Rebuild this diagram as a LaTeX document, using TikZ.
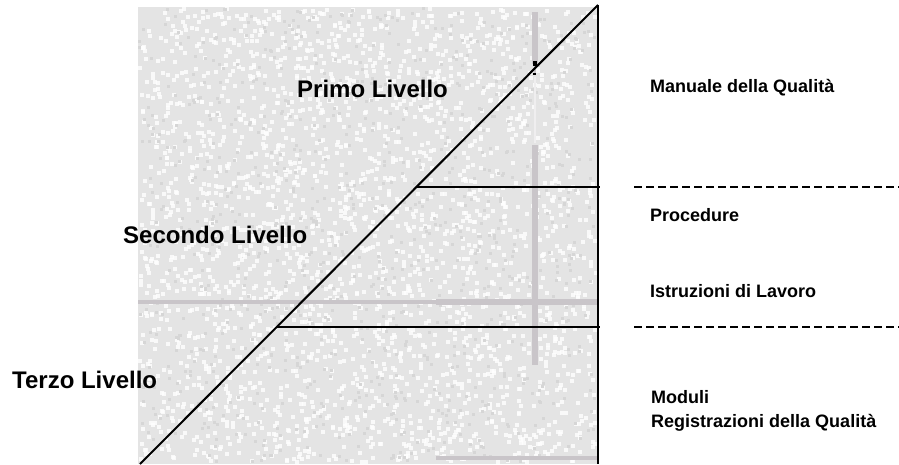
\documentclass[tikz,border=0pt]{standalone}
\usepackage{fontspec}
\setmainfont{Liberation Sans}
\definecolor{bgtex}{HTML}{E4E4E4}
\definecolor{speckd}{HTML}{D6D6D6}
\definecolor{stripe}{HTML}{C9C5C9}
\begin{document}
\begin{tikzpicture}[x=1pt,y=-1pt,
  big/.style={anchor=base west,inner sep=0pt,font=\fontsize{24}{28}\selectfont\bfseries},
  small/.style={anchor=base west,inner sep=0pt,font=\fontsize{18}{23}\selectfont\bfseries},
  blk/.style={line width=2pt,black},
  dsh/.style={line width=2pt,black,dash pattern=on 8pt off 4pt},
  grey/.style={stripe}]
\useasboundingbox (0,0) rectangle (899,464);
% textured background
\fill[bgtex] (138,7) rectangle (598,464);
\pgfmathsetseed{7}
\foreach \i in {1,...,2600}{%
  \pgfmathsetmacro\rx{138+rnd*456}%
  \pgfmathsetmacro\ry{7+rnd*453}%
  \fill[white,opacity=0.8] (\rx,\ry) rectangle ++(4,4);}
\foreach \i in {1,...,900}{%
  \pgfmathsetmacro\rx{138+rnd*456}%
  \pgfmathsetmacro\ry{7+rnd*453}%
  \fill[speckd] (\rx,\ry) rectangle ++(3,3);}
% faint grey stripes of the background
\fill[grey] (532,12) rectangle (538,64);
\fill[grey] (534,66) rectangle (536,73);
\fill[white!70!stripe] (534,77) rectangle (536,143);
\fill[grey] (532,145) rectangle (538,365);
\fill[black] (533,61) rectangle (537,66);
\fill[black] (533,73) rectangle (536,75);
\fill[grey] (138,300) rectangle (436,304);
\fill[grey] (436,299) rectangle (598,305);
\fill[grey] (436,456) rectangle (598,460);
% frame coordinates
\coordinate (bl) at (140,464);
\coordinate (tr) at (598,5);
\coordinate (br) at (598,464);
\coordinate (d1) at (417,187);
\coordinate (e1) at (600,187);
\coordinate (d2) at (277,327);
\coordinate (e2) at (600,327);
\coordinate (s1) at (634,187);
\coordinate (t1) at (899,187);
\coordinate (s2) at (634,327);
\coordinate (t2) at (899,327);
\draw[blk] (bl) -- (tr);
\draw[blk] (tr) -- (br);
\draw[blk] (d1) -- (e1);
\draw[blk] (d2) -- (e2);
\draw[dsh] (s1) -- (t1);
\draw[dsh] (s2) -- (t2);
% labels
\node[big] (primo) at (297,97) {Primo Livello};
\node[big] (secondo) at (123,243) {Secondo Livello};
\node[big] (terzo) at (12,388) {Terzo Livello};
\node[small] (manuale) at (650,92) {Manuale della Qualità};
\node[small] (proc) at (650,221) {Procedure};
\node[small] (istr) at (650,297) {Istruzioni di Lavoro};
\node[small] (mod) at (651,403) {Moduli};
\node[small] (reg) at (651,427) {Registrazioni della Qualità};
\end{tikzpicture}
\end{document}
